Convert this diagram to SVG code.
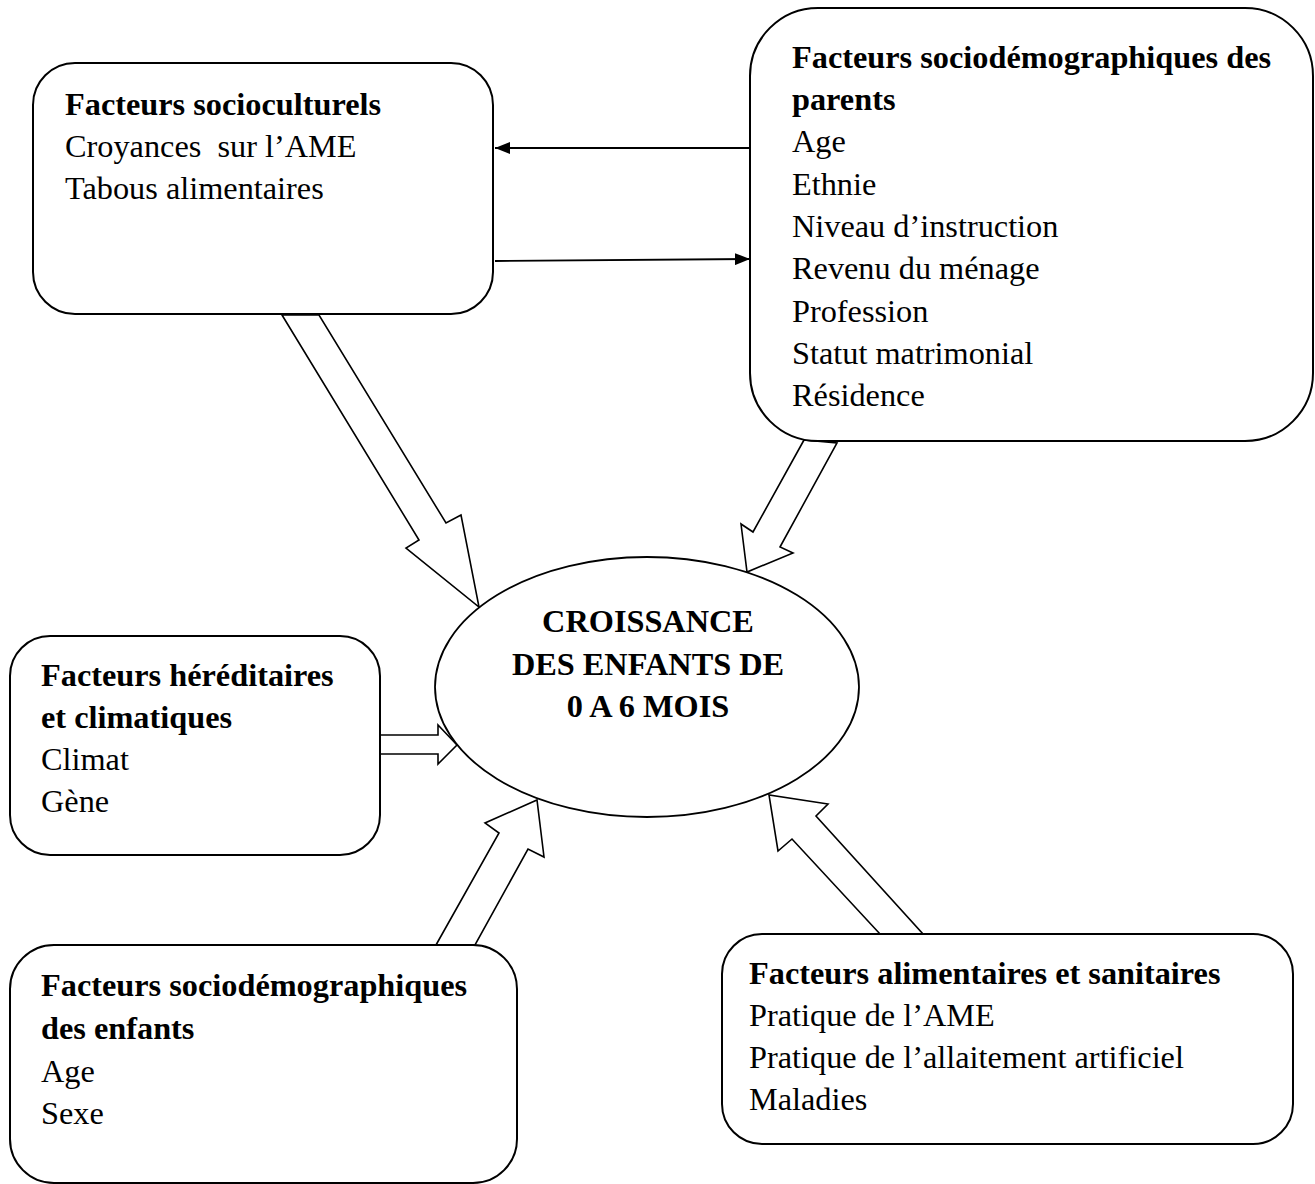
<svg xmlns="http://www.w3.org/2000/svg" width="1315" height="1184" viewBox="0 0 1315 1184">
<defs>
<style>
.box{fill:#fff;stroke:#000;stroke-width:2}
.blk{fill:#fff;stroke:#000;stroke-width:1.6;stroke-linejoin:miter}
.ln{stroke:#000;stroke-width:1.8;fill:none}
text{font-family:"Liberation Serif","Times New Roman",serif;font-size:32.3px;fill:#000}
.b{font-weight:bold}
</style>
<marker id="ah" viewBox="0 0 10 10" refX="10" refY="5" markerWidth="15" markerHeight="12" markerUnits="userSpaceOnUse" orient="auto" preserveAspectRatio="none">
<path d="M0,0 L10,5 L0,10 Z" fill="#000"/>
</marker>
</defs>
<rect width="1315" height="1184" fill="#fff"/>
<g id="connectors">
<polygon class="blk" points="282,315 419,540 406,548 479,607 461,515 446,523 319,315"/>
<polygon class="blk" points="804,440 753,532 741,524 747,572 793,553 780,547 837,443"/>
<polygon class="blk" points="380,735 438,735 438,725 457,745 438,764 438,754 380,754"/>
<polygon class="blk" points="436,945 499,833 485,823 537,800 544,857 528,849 475,945"/>
<polygon class="blk" points="880,934 792,839 778,851 769,795 828,804 816,816 923,934"/>
<line class="ln" x1="750" y1="148" x2="495" y2="148" marker-end="url(#ah)"/>
<line class="ln" x1="495" y1="261" x2="750" y2="259" marker-end="url(#ah)"/>
</g>
<g id="center">
<ellipse cx="647" cy="687" rx="212" ry="130" fill="#fff" stroke="#000" stroke-width="1.8"/>
<text class="b" x="648" y="632" text-anchor="middle">CROISSANCE</text>
<text class="b" x="648" y="675" text-anchor="middle">DES ENFANTS DE</text>
<text class="b" x="648" y="717" text-anchor="middle">0 A 6 MOIS</text>
</g>
<g id="socioculturels">
<rect class="box" x="33" y="63" width="460" height="251" rx="42"/>
<text class="b" x="65" y="115">Facteurs socioculturels</text>
<text x="65" y="157" xml:space="preserve">Croyances  sur l’AME</text>
<text x="65" y="199">Tabous alimentaires</text>
</g>
<g id="parents">
<rect class="box" x="750" y="8" width="563" height="433" rx="68"/>
<text class="b" x="792" y="68">Facteurs sociodémographiques des</text>
<text class="b" x="792" y="110">parents</text>
<text x="792" y="152">Age</text>
<text x="792" y="195">Ethnie</text>
<text x="792" y="237">Niveau d’instruction</text>
<text x="792" y="279">Revenu du ménage</text>
<text x="792" y="322">Profession</text>
<text x="792" y="364">Statut matrimonial</text>
<text x="792" y="406">Résidence</text>
</g>
<g id="hereditaires">
<rect class="box" x="10" y="636" width="370" height="219" rx="40"/>
<text class="b" x="41" y="686">Facteurs héréditaires</text>
<text class="b" x="41" y="728">et climatiques</text>
<text x="41" y="770">Climat</text>
<text x="41" y="812">Gène</text>
</g>
<g id="enfants">
<rect class="box" x="10" y="945" width="507" height="238" rx="44"/>
<text class="b" x="41" y="996">Facteurs sociodémographiques</text>
<text class="b" x="41" y="1039">des enfants</text>
<text x="41" y="1082">Age</text>
<text x="41" y="1124">Sexe</text>
</g>
<g id="alimentaires">
<rect class="box" x="722" y="934" width="571" height="210" rx="40"/>
<text class="b" x="749" y="984">Facteurs alimentaires et sanitaires</text>
<text x="749" y="1026">Pratique de l’AME</text>
<text x="749" y="1068">Pratique de l’allaitement artificiel</text>
<text x="749" y="1110">Maladies</text>
</g>
</svg>
